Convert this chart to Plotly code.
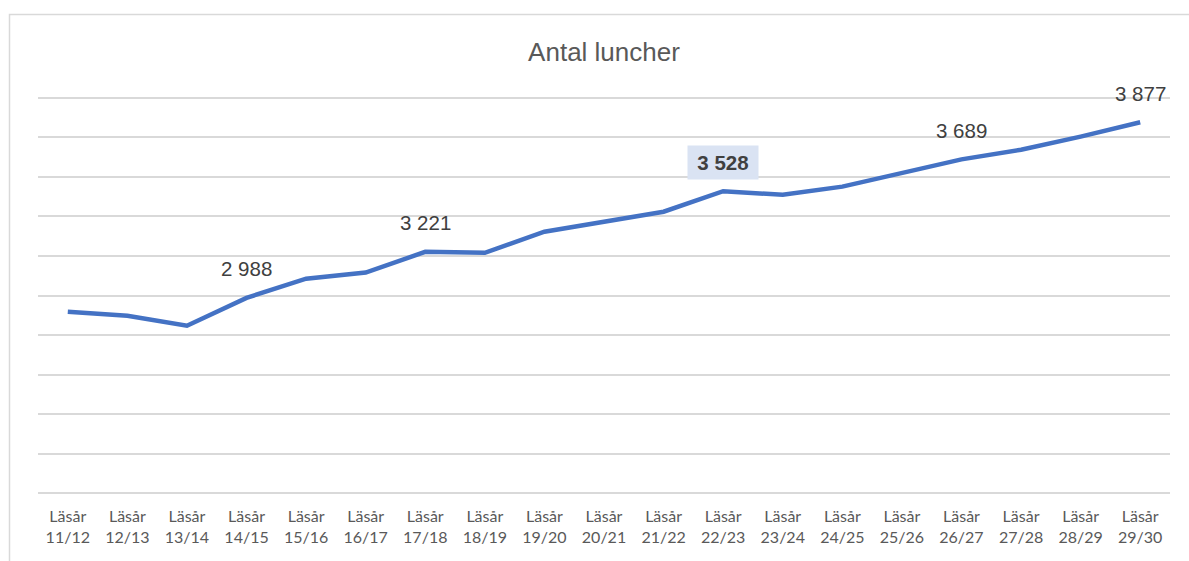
import plotly.graph_objects as go

# Läsår-kategorier och antal luncher
lasar = ["11/12", "12/13", "13/14", "14/15", "15/16", "16/17", "17/18", "18/19", "19/20",
         "20/21", "21/22", "22/23", "23/24", "24/25", "25/26", "26/27", "27/28", "28/29", "29/30"]
luncher = [2918, 2897, 2847, 2988, 3085, 3116, 3221, 3216, 3323,
           3374, 3424, 3528, 3510, 3551, 3622, 3689, 3738, 3804, 3877]
tick_text = ["Läsår<br>" + s for s in lasar]
grid_vals = list(range(2000, 4001, 200))

# punkter som har dataetikett, och den markerade
etikett_idx = [3, 6, 11, 15, 18]
markerad_idx = 11

W, H = 1189, 561
L, R, T, B = 38, 19, 94, 64
pw, ph = W - L - R, H - T - B

fig = go.Figure()
fig.add_trace(go.Scatter(
    x=lasar, y=luncher, mode="lines",
    line=dict(color="#4472c4", width=4.5),
    hoverinfo="x+y", showlegend=False,
))


def fmt(v):
    return f"{v:,}".replace(",", " ")


for i in etikett_idx:
    if i == markerad_idx:
        fig.add_annotation(
            x=lasar[i], y=luncher[i], text="<b>" + fmt(luncher[i]) + "</b>",
            showarrow=False, yanchor="middle", yshift=29,
            font=dict(family="Liberation Sans, Arial", size=20.5, color="#404040"),
            bgcolor="#dae3f3", width=70, height=33, borderpad=0,
        )
    else:
        fig.add_annotation(
            x=lasar[i], y=luncher[i], text=fmt(luncher[i]),
            showarrow=False, yanchor="middle", yshift=29,
            font=dict(family="Liberation Sans, Arial", size=20.5, color="#404040"),
        )

# ljusgrå ram runt diagramytan
fig.add_shape(
    type="rect", xref="paper", yref="paper",
    x0=(9.5 - L) / pw, x1=(W + 20 - L) / pw,
    y0=(H - B - (H + 20)) / ph, y1=(H - B - 14.5) / ph,
    line=dict(color="#d9d9d9", width=1.5), fillcolor="rgba(0,0,0,0)", layer="below",
)

fig.update_xaxes(
    range=[-0.5, len(lasar) - 0.5],
    tickvals=lasar, ticktext=tick_text, showgrid=False, zeroline=False,
    showline=False, ticks="", ticklabelstandoff=8,
    tickfont=dict(family="Lato, Open Sans", size=16, color="#595959"),
)
fig.update_yaxes(
    range=[1980, 4020], tickvals=grid_vals, showticklabels=False, showgrid=True,
    gridcolor="#d9d9d9", gridwidth=1.5, zeroline=False, showline=False,
)
fig.update_layout(
    width=W, height=H,
    title=dict(text="Antal luncher", x=0.5, xref="paper", xanchor="center", y=1 - 52 / H, yanchor="middle",
               font=dict(family="Liberation Sans, Arial", size=26, color="#595959")),
    plot_bgcolor="white", paper_bgcolor="white",
    margin=dict(l=L, r=R, t=T, b=B),
)

fig.write_html("out.html", config={"displayModeBar": False},
               post_script="document.body.style.margin='0';")
